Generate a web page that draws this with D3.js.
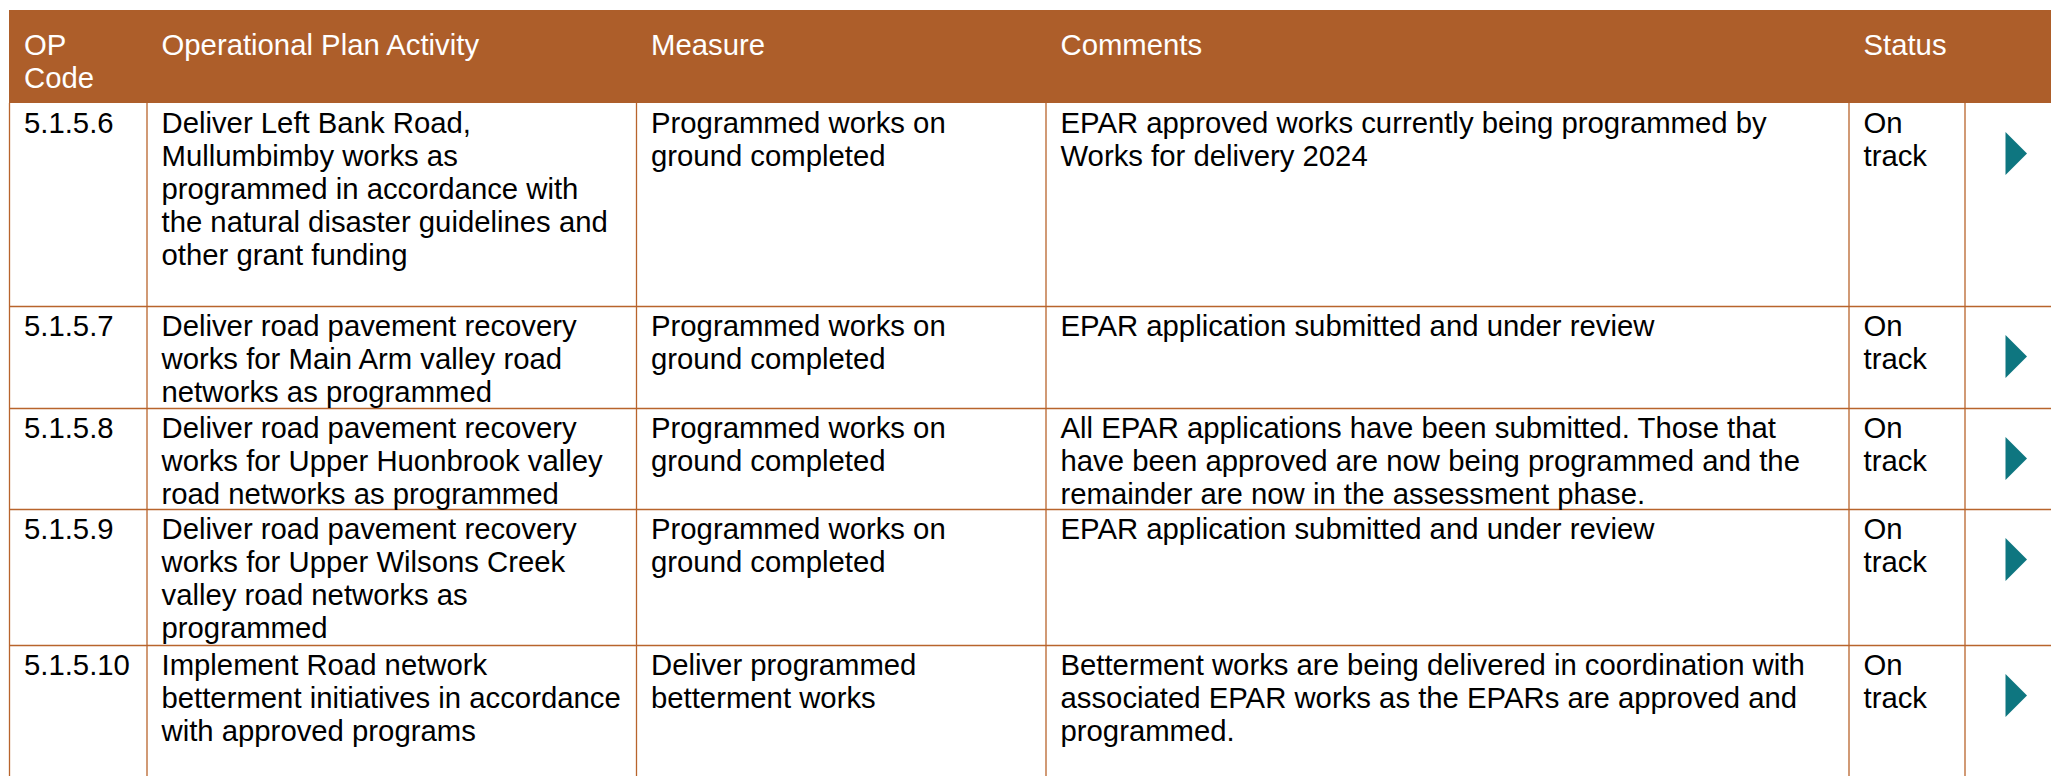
<!DOCTYPE html>
<html>
<head>
<meta charset="utf-8">
<script src="https://cdn.jsdelivr.net/npm/d3@7"></script>
<style>
  html, body { margin: 0; padding: 0; background: #ffffff; }
  svg { display: block; }
  text { font-family: "Liberation Sans", Arial, Helvetica, sans-serif; }
</style>
</head>
<body>
<svg id="chart" width="2051" height="776"></svg>
<script>
// ---- data ----
const headers = ["OP\nCode", "Operational Plan Activity", "Measure", "Comments", "Status", ""];
const codes = ["5.1.5.6", "5.1.5.7", "5.1.5.8", "5.1.5.9", "5.1.5.10"];
const activities = [
  "Deliver Left Bank Road,\nMullumbimby works as\nprogrammed in accordance with\nthe natural disaster guidelines and\nother grant funding",
  "Deliver road pavement recovery\nworks for Main Arm valley road\nnetworks as programmed",
  "Deliver road pavement recovery\nworks for Upper Huonbrook valley\nroad networks as programmed",
  "Deliver road pavement recovery\nworks for Upper Wilsons Creek\nvalley road networks as\nprogrammed",
  "Implement Road network\nbetterment initiatives in accordance\nwith approved programs"
];
const measures = [
  "Programmed works on\nground completed",
  "Programmed works on\nground completed",
  "Programmed works on\nground completed",
  "Programmed works on\nground completed",
  "Deliver programmed\nbetterment works"
];
const comments = [
  "EPAR approved works currently being programmed by\nWorks for delivery 2024",
  "EPAR application submitted and under review",
  "All EPAR applications have been submitted. Those that\nhave been approved are now being programmed and the\nremainder are now in the assessment phase.",
  "EPAR application submitted and under review",
  "Betterment works are being delivered in coordination with\nassociated EPAR works as the EPARs are approved and\nprogrammed."
];
const statuses = ["On\ntrack", "On\ntrack", "On\ntrack", "On\ntrack", "On\ntrack"];

// ---- layout ----
const colEdges = [9, 146.5, 636, 1045.5, 1848.5, 1964.5, 2060];
const headerTop = 10, headerH = 93;
const rowHeights = [203, 102, 101, 136, 150];
const fontSize = 29.3, lineH = 33, padX = 15;
const headerColor = "#AD5E2A", lineColor = "#B8642C", arrowColor = "#0E7680";

const svg = d3.select("#chart");
const rows = codes.map((c, i) => ({
  cells: [c, activities[i], measures[i], comments[i], statuses[i]]
}));
let acc = headerTop + headerH;
rows.forEach((r, i) => { r.top = acc; r.h = rowHeights[i]; acc += r.h; });

const x = d3.scaleOrdinal().domain(d3.range(colEdges.length)).range(colEdges);

// header background
svg.append("rect")
  .attr("x", colEdges[0]).attr("y", headerTop)
  .attr("width", colEdges[colEdges.length - 1] - colEdges[0])
  .attr("height", headerH)
  .attr("fill", headerColor);

function multiline(g, str, x0, y0, fill) {
  const t = g.append("text").attr("x", x0).attr("y", y0)
    .attr("font-size", fontSize).attr("fill", fill);
  str.split("\n").forEach((ln, k) => {
    t.append("tspan").attr("x", x0).attr("y", y0 + k * lineH).text(ln);
  });
}

const hg = svg.append("g");
headers.forEach((h, j) => {
  if (h) multiline(hg, h, x(j) + padX, headerTop + 45, "#ffffff");
});

// row grid lines
const grid = svg.append("g").attr("stroke", lineColor).attr("stroke-width", 1.3).attr("fill", "none");
rows.forEach((r, i) => {
  if (i > 0) {
    grid.append("line").attr("x1", colEdges[0]).attr("x2", colEdges[colEdges.length - 1])
      .attr("y1", r.top + 0.5).attr("y2", r.top + 0.5);
  }
});
const bottom = acc;
colEdges.slice(0, -1).forEach(cx => {
  grid.append("line").attr("x1", cx + 0.5).attr("x2", cx + 0.5)
    .attr("y1", headerTop + headerH).attr("y2", bottom);
});

// cell text
const tg = svg.append("g");
rows.forEach(r => {
  r.cells.forEach((c, j) => multiline(tg, c, x(j) + padX, r.top + 29.5, "#000000"));
});

// status arrows
const ag = svg.append("g");
rows.forEach(r => {
  const ax = x(5) + 41, ay = r.top + 50.5;
  const p = d3.path();
  p.moveTo(ax, ay - 21.5);
  p.lineTo(ax + 21.5, ay);
  p.lineTo(ax, ay + 21.5);
  p.closePath();
  ag.append("path").attr("d", p.toString()).attr("fill", arrowColor);
});
</script>
</body>
</html>
